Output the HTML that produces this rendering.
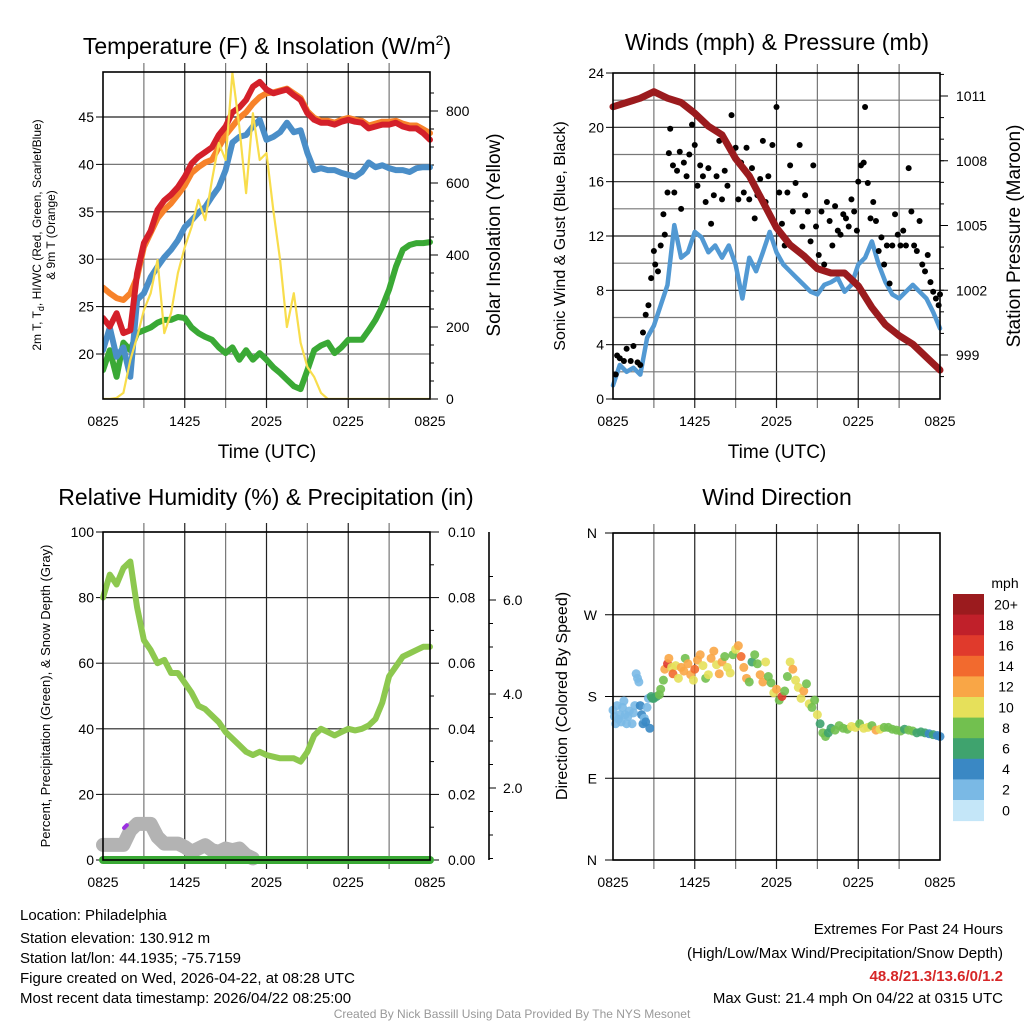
<!DOCTYPE html>
<html><head><meta charset="utf-8">
<style>
html,body{margin:0;padding:0;background:#fff;}
svg{display:block;font-family:"Liberation Sans",Arial,sans-serif;}
</style></head>
<body>
<svg id="fig" width="1024" height="1024" viewBox="0 0 1024 1024" xmlns="http://www.w3.org/2000/svg">
<rect width="1024" height="1024" fill="#fff"/>
<g id="p1"></g>
<g id="p2"></g>
<g id="p3"></g>
<g id="p4"></g>
<text x="267" y="54" font-size="23" text-anchor="middle">Temperature (F) &amp; Insolation (W/m<tspan dy="-9" font-size="14">2</tspan><tspan dy="9">)</tspan></text>
<text x="777" y="50" font-size="23" text-anchor="middle">Winds (mph) &amp; Pressure (mb)</text>
<text x="266" y="505" font-size="23" text-anchor="middle">Relative Humidity (%) &amp; Precipitation (in)</text>
<text x="777" y="505" font-size="23" text-anchor="middle">Wind Direction</text>
<text x="267" y="458" font-size="19" text-anchor="middle">Time (UTC)</text>
<text x="777" y="458" font-size="19" text-anchor="middle">Time (UTC)</text>
<text transform="translate(41,235) rotate(-90)" font-size="12" text-anchor="middle">2m T, T<tspan dy="3" font-size="9">d</tspan><tspan dy="-3">, HI/WC (Red, Green, Scarlet/Blue)</tspan></text>
<text transform="translate(55,235) rotate(-90)" font-size="12" text-anchor="middle">&amp; 9m T (Orange)</text>
<text transform="translate(500,235) rotate(-90)" font-size="19" text-anchor="middle">Solar Insolation (Yellow)</text>
<text transform="translate(565,236) rotate(-90)" font-size="16" text-anchor="middle">Sonic Wind &amp; Gust (Blue, Black)</text>
<text transform="translate(1020,236) rotate(-90)" font-size="19" text-anchor="middle">Station Pressure (Maroon)</text>
<text transform="translate(50,696) rotate(-90)" font-size="13" text-anchor="middle">Percent, Precipitation (Green), &amp; Snow Depth (Gray)</text>
<text transform="translate(567,696) rotate(-90)" font-size="16" text-anchor="middle">Direction (Colored By Speed)</text>
<text x="1005" y="588" font-size="14" text-anchor="middle">mph</text>
<g font-size="15">
<text x="20" y="920">Location: Philadelphia</text>
<text x="20" y="943">Station elevation: 130.912 m</text>
<text x="20" y="963">Station lat/lon: 44.1935; -75.7159</text>
<text x="20" y="983">Figure created on Wed, 2026-04-22, at 08:28 UTC</text>
<text x="20" y="1003">Most recent data timestamp: 2026/04/22 08:25:00</text>
</g>
<g font-size="15" text-anchor="end">
<text x="1003" y="934">Extremes For Past 24 Hours</text>
<text x="1003" y="958">(High/Low/Max Wind/Precipitation/Snow Depth)</text>
<text x="1003" y="981" fill="#d62728" font-weight="bold">48.8/21.3/13.6/0/1.2</text>
<text x="1003" y="1003">Max Gust: 21.4 mph On 04/22 at 0315 UTC</text>
</g>
<text x="512" y="1018" font-size="12" fill="#999" text-anchor="middle">Created By Nick Bassill Using Data Provided By The NYS Mesonet</text>
</svg>
<script>
// ---------- DATA ----------
const hours = [0,0.5,1,1.5,2,2.5,3,3.5,4,4.5,5,5.5,6,6.5,7,7.5,8,8.5,9,9.5,10,10.5,11,11.5,12,12.5,13,13.5,14,14.5,15,15.5,16,16.5,17,17.5,18,18.5,19,19.5,20,20.5,21,21.5,22,22.5,23,23.5,24];
const xTickLabels = ["0825","1425","2025","0225","0825"];
const tempRed = [23.8,22.9,24.3,22.2,22.5,28.5,31.7,33,35.2,36.2,36.8,37.6,38.7,40.1,40.8,41.3,41.8,43.1,44,45.5,46,46.8,48.2,48.7,47.9,47.5,47.7,47.9,47.3,46.8,45.4,44.7,44.4,44.4,44.2,44.5,44.7,44.5,44.4,43.8,44,44.2,44.2,44.4,44,43.8,43.8,43.3,42.6];
const temp9m = [27,26.4,25.9,25.7,26.4,28.1,31.3,32.8,34.3,35.2,35.9,36.8,37.8,39.1,39.7,40.2,40.5,41.8,43.1,44,44.9,45.5,46.4,47.1,47.5,47.6,47.8,48,47.5,47,45.6,44.9,44.6,44.6,44.4,44.7,44.9,44.7,44.6,44.1,44.3,44.5,44.5,44.6,44.3,44.1,44.1,43.7,43.3];
const tempBlue = [20.4,22.8,19.7,20.7,17.6,25.7,26.4,28.1,29.2,30.2,31,32,33.4,34.1,34.9,35.5,36.6,37.6,39.4,42.3,42.9,43.1,44,44.7,42.6,42.9,43.4,44.4,43.4,43.6,41.2,39.4,39.6,39.4,39.4,39.1,38.9,38.7,39.2,40.2,39.7,39.9,39.6,39.4,39.4,39.2,39.6,39.7,39.7];
const dewGreen = [18.3,20.4,17.6,21.2,20.4,22.2,22.5,22.8,23.3,23.6,23.6,23.9,23.8,22.8,22.2,21.8,21.5,20.7,20.1,20.7,19.4,20.4,19.4,20.1,19.4,18.6,18,17.3,16.6,16.3,18.3,20.4,20.9,21.2,20.1,20.7,21.5,21.5,21.5,22.5,23.6,25,26.8,29.2,31,31.5,31.7,31.7,31.8];
const solar = [0,0,3,17,108,172,247,294,386,183,239,350,422,478,553,497,608,711,664,906,756,572,794,664,683,525,386,200,294,156,89,61,17,0,0,0,0,0,0,0,0,0,0,0,0,0,0,0,0];
const tempTicks = [20,25,30,35,40,45];
const solarTicks = [0,200,400,600,800];

const windSpeed = [1,2.5,2,2.3,1.8,4.5,5.4,6.9,8.4,12.8,10.4,10.8,12.3,11.9,10.8,11.3,10.4,11.3,9.9,7.4,10.4,9.4,10.8,12.3,10.8,9.9,9.4,8.9,8.4,7.9,7.7,8.4,8.6,8.9,7.9,8.4,9.9,10.4,11.6,9.9,8.6,7.7,7.4,7.9,8.4,7.9,7.4,6.4,5.2];
const pressHours = [0,1,2,3,4,5,6,7,8,9,10,11,12,13,14,15,16,17,18,19,20,21,22,23,24];
const pressure = [1010.5,1010.7,1010.9,1011.2,1010.9,1010.7,1010.2,1009.6,1009.2,1008.1,1007.3,1006.1,1004.9,1004.1,1003.6,1003,1002.8,1002.8,1002.2,1001.2,1000.4,999.9,999.5,998.9,998.3];
const gustHours = [0.2,0.3,0.5,0.8,1.0,1.3,1.5,1.8,2.0,2.2,2.4,2.6,2.8,3.0,3.1,3.3,3.5,3.7,3.8,4.0,4.1,4.2,4.4,4.5,4.7,4.9,5.0,5.2,5.4,5.6,5.8,6.0,6.2,6.4,6.6,6.8,7.0,7.2,7.4,7.6,7.8,8.0,8.2,8.4,8.7,9.0,9.2,9.4,9.6,9.8,10.0,10.2,10.4,10.6,10.8,11.0,11.2,11.4,11.7,12.0,12.2,12.4,12.6,12.8,13.0,13.2,13.4,13.7,13.9,14.1,14.3,14.5,14.7,14.9,15.1,15.3,15.5,15.7,15.9,16.1,16.3,16.5,16.7,16.9,17.1,17.3,17.5,17.7,17.9,18.0,18.2,18.4,18.5,18.7,18.9,19.1,19.3,19.5,19.7,19.9,20.1,20.3,20.5,20.7,20.9,21.1,21.3,21.5,21.7,21.9,22.1,22.3,22.5,22.7,22.9,23.1,23.3,23.5,23.7,23.9,24.0];
const gustSpeed = [1.8,3.2,3.0,2.8,3.7,2.8,3.9,2.7,2.5,4.9,6.2,6.9,8.9,10.9,9.9,9.4,11.3,13.6,12.1,15.2,18.1,19.9,17.2,15.2,16.8,18.2,14,17.4,16.4,18,20.2,18.7,15.7,17.2,16.4,14.5,17,12.9,15,16.4,19,14.7,16.8,15.7,20.9,18.5,14.7,17.4,15.2,18.5,14.7,17,13.3,15,16.2,19,14.5,16.4,18.7,21.5,15.2,12.9,11.3,15.2,17.2,13.8,15.9,18.7,12.7,15,13.8,11.6,17.2,12.7,10.6,13.8,9.9,14.5,13.1,11.3,14.2,12.4,12.1,13.6,13.3,12.7,14.7,13.8,12.4,16,17.2,17.4,21.5,15.9,13.3,14.5,13.1,10.9,11.9,9.9,11.3,8.5,11.3,13.6,12.1,11.3,12.4,11.3,17,13.8,11.3,10.9,13.1,9.9,9.4,10.6,8.6,7.9,7.4,6.9,7.7];
const mphTicks = [0,4,8,12,16,20,24];
const pressTicks = [999,1002,1005,1008,1011];

const rhValues = [80,87,84,89,91,77,67,64,60,61,57,57,54,51,47,46,44,42,39,37,35,33,32,33,32,31.5,31,31,31,30,33,38,40,39,38,39,40,39.5,40,41,43,48,56,59,62,63,64,65,65];
const snowHours = [0,0.5,1,1.5,2,2.5,3,3.5,4,4.5,5,5.5,6,6.5,7,7.5,8,8.5,9,9.5,10,10.5,11];
const snowDepth = [4.6,4.6,4.6,4.6,9,11,11,11,7,5,5,5,4,2.5,3.5,4.5,3,2.5,3.5,3,3.5,1.5,0.5];
const precipValues = [0,0,0,0,0,0,0,0,0,0,0,0,0,0,0,0,0,0,0,0,0,0,0,0,0,0,0,0,0,0,0,0,0,0,0,0,0,0,0,0,0,0,0,0,0,0,0,0,0];
const rhTicks = [0,20,40,60,80,100];
const precipTicks = ["0.00","0.02","0.04","0.06","0.08","0.10"];
const depthTicks = ["2.0","4.0","6.0"];

const dirHours = [0.0,0.1,0.2,0.3,0.4,0.5,0.6,0.7,0.8,0.9,1.0,1.1,1.2,1.4,1.5,1.6,1.7,1.8,1.9,2.0,2.1,2.2,2.3,2.4,2.5,2.6,2.7,2.8,2.9,3.0,3.2,3.4,3.5,3.7,3.8,4.0,4.1,4.3,4.4,4.6,4.8,5.0,5.2,5.3,5.5,5.7,5.9,6.0,6.2,6.4,6.6,6.8,7.0,7.2,7.4,7.6,7.8,8.0,8.2,8.4,8.6,8.8,9.0,9.2,9.4,9.6,9.8,10.0,10.2,10.4,10.6,10.8,11.0,11.2,11.4,11.6,11.8,12.0,12.2,12.4,12.6,12.8,13.0,13.2,13.4,13.6,13.8,14.0,14.2,14.4,14.6,14.8,15.0,15.2,15.4,15.6,15.8,16.0,16.3,16.6,16.9,17.2,17.5,17.8,18.1,18.4,18.7,19.0,19.3,19.6,19.9,20.2,20.5,20.8,21.1,21.4,21.7,22.0,22.3,22.6,22.9,23.2,23.5,23.8,24.0];
const dirDeg = [165,158,150,170,155,160,152,168,175,160,150,158,164,150,162,170,205,200,196,170,160,150,156,152,168,178,145,180,178,178,180,182,188,198,210,216,222,212,205,214,200,212,208,222,216,204,198,210,220,226,214,200,204,222,230,215,205,218,224,212,206,226,232,236,224,212,200,196,218,226,216,204,196,218,202,195,184,188,176,180,186,202,218,210,198,190,178,186,194,172,168,176,160,150,140,136,140,145,143,148,145,144,147,146,150,145,146,148,143,144,146,146,144,143,142,144,143,142,140,141,140,139,138,137,136];
const dirSpeed = [2,1,2,2,2,2,1,2,2,2,1,2,2,2,2,2,2,2,2,3,4,4,2,4,1,1,4,6,6,6,6,7,8,8,12,15,12,10,13,10,9,12,12,8,12,11,10,13,12,11,10,8,10,12,11,10,12,12,8,10,10,8,9,12,13,11,12,8,6,8,8,12,12,10,7,8,9,12,8,16,8,8,10,11,9,10,9,12,8,10,8,8,10,6,8,7,6,6,7,8,8,8,10,10,8,9,10,8,12,10,8,8,7,8,8,6,8,7,6,5,6,4,5,4,4,6,4,4,4];
const dirTicks = ["N","E","S","W","N"];
const speedBins = ["0","2","4","6","8","10","12","14","16","18","20+"];
const speedColors = ["#c4e6f8","#7ab9e5","#3a88c4","#3fa36e","#72c04f","#e6e05a","#f9a646","#f26a2e","#e03a2c","#c0202a","#9b1b1e"];

// ---------- HELPERS ----------
const NS = "http://www.w3.org/2000/svg";
function mk(parent, tag, attrs, text){
  const e = document.createElementNS(NS, tag);
  for (const k in attrs) e.setAttribute(k, attrs[k]);
  if (text !== undefined) e.textContent = text;
  parent.appendChild(e);
  return e;
}
function linScale(d0,d1,r0,r1){ return v => r0 + (v-d0)*(r1-r0)/(d1-d0); }
function pathFrom(xs, ys, sx, sy){
  let d = "";
  for (let i=0;i<xs.length;i++) d += (i?"L":"M") + sx(xs[i]).toFixed(1) + " " + sy(ys[i]).toFixed(1);
  return d;
}

function frame(g, X0, X1, Y0, Y1, name){
  // vertical grid
  for (let h=3; h<24; h+=3){
    const x = X0 + h*(X1-X0)/24;
    const gl = mk(g,"line",{x1:x,x2:x,y1:Y0-9,y2:Y1+9,stroke:(h%6===0?"#222":"#777"),"stroke-width":1.2});
    
    
  }
  const xl = [0,6,12,18,24];
  for (let i=0;i<xl.length;i++){
    const x = X0 + xl[i]*(X1-X0)/24;
    const t = mk(g,"text",{x:x,y:Y1+27,"font-size":14,"text-anchor":"middle"}, xTickLabels[i]);
    
    
  }
}
function boxRect(g,X0,X1,Y0,Y1){
  const r = mk(g,"rect",{x:X0,y:Y0,width:X1-X0,height:Y1-Y0,fill:"none",stroke:"#000","stroke-width":1.6});
  
  
}
function hgrid(g,X0,X1,y,dark){
  const l = mk(g,"line",{x1:X0,x2:X1,y1:y,y2:y,stroke:dark?"#222":"#777","stroke-width":1.2});
  
  
}
function ylabel(g,x,y,txt,anchor){
  const t = mk(g,"text",{x:x,y:y+5,"font-size":14,"text-anchor":anchor}, txt);
  
  
}
function tick(g,x1,x2,y){
  const l = mk(g,"line",{x1:x1,x2:x2,y1:y,y2:y,stroke:"#000","stroke-width":1});
  
  
}

// ---------- PANEL 1 ----------
(function(){
  const g = document.getElementById("p1");
  const X0=103,X1=430,Y0=72,Y1=399;
  const sx = linScale(0,24,X0,X1);
  const sT = linScale(45,20,117,354);
  const sS = linScale(0,800,399,111);
  frame(g,X0,X1,Y0,Y1,"p1");
  tempTicks.forEach((v,i)=>{ hgrid(g,X0,X1,sT(v),i%2===1); ylabel(g,X0-9,sT(v),String(v),"end"); tick(g,X0-7,X0,sT(v)); });
  solarTicks.forEach(v=>{ ylabel(g,X1+16,sS(v),String(v),"start"); tick(g,X1,X1+8,sS(v)); });
  for (let v=50; v<900; v+=50){ tick(g,X1,X1+4,sS(v)); }
  const cp = mk(g,"clipPath",{id:"c1"}); mk(cp,"rect",{x:X0,y:Y0-10,width:X1-X0+4,height:Y1-Y0+10});
  const lay = mk(g,"g",{"clip-path":"url(#c1)","stroke-linejoin":"round","stroke-linecap":"round",fill:"none"});
  const series = [[dewGreen,"#3aa935","dewpoint-line"],[tempBlue,"#4a8ec8","heat-index-line"],[temp9m,"#f7822a","temp-9m-line"],[tempRed,"#d4202a","temp-2m-line"]];
  series.forEach(s=>{
    const p = mk(lay,"path",{d:pathFrom(hours,s[0],sx,sT),stroke:s[1],"stroke-width":6});
    
    
  });
  const sp = mk(lay,"path",{d:pathFrom(hours,solar,sx,sS),stroke:"#f8dd4c","stroke-width":2.2});
  
  
  boxRect(g,X0,X1,Y0,Y1);
})();

// ---------- PANEL 2 ----------
(function(){
  const g = document.getElementById("p2");
  const X0=613,X1=940,Y0=73,Y1=399;
  const sx = linScale(0,24,X0,X1);
  const sV = linScale(0,24,399,73);
  const sP = linScale(999,1011,355,96);
  frame(g,X0,X1,Y0,Y1,"p2");
  for (let v=2; v<24; v+=2) hgrid(g,X0,X1,sV(v), v%4===0);
  mphTicks.forEach(v=>{ ylabel(g,X0-9,sV(v),String(v),"end"); tick(g,X0-7,X0,sV(v)); });
  pressTicks.forEach(v=>{ ylabel(g,X1+16,sP(v),String(v),"start"); tick(g,X1,X1+8,sP(v)); });
  for (let v=998; v<=1012; v++){ tick(g,X1,X1+4,sP(v)); }
  const lay = mk(g,"g",{"stroke-linejoin":"round","stroke-linecap":"round",fill:"none"});
  const w = mk(lay,"path",{d:pathFrom(hours,windSpeed,sx,sV),stroke:"#5299d3","stroke-width":4.5});
  
  
  gustHours.forEach((h,i)=>{
    const c = mk(g,"circle",{cx:sx(h),cy:sV(gustSpeed[i]),r:3,fill:"#000"});
    
    
  });
  const p = mk(g,"path",{d:pathFrom(pressHours,pressure,sx,sP),stroke:"#9b1b1e","stroke-width":7,fill:"none","stroke-linejoin":"round","stroke-linecap":"round"});
  
  
  boxRect(g,X0,X1,Y0,Y1);
})();

// ---------- PANEL 3 ----------
(function(){
  const g = document.getElementById("p3");
  const X0=103,X1=430,Y0=532,Y1=860;
  const sx = linScale(0,24,X0,X1);
  const sR = linScale(0,100,860,532);
  frame(g,X0,X1,Y0,Y1,"p3");
  rhTicks.forEach((v,i)=>{ hgrid(g,X0,X1,sR(v),i%2===0); ylabel(g,X0-9,sR(v),String(v),"end"); tick(g,X0-7,X0,sR(v)); });
  precipTicks.forEach((v,i)=>{ ylabel(g,X1+18,sR(i*20),v,"start"); tick(g,X1,X1+9,sR(i*20)); });
  for (let v=10; v<100; v+=20){ tick(g,X1,X1+4,sR(v)); }
  // depth axis
  const sD = linScale(0,2,882,788);
  const ax = mk(g,"line",{x1:489,x2:489,y1:532,y2:860,stroke:"#000","stroke-width":1.6});
  
  
  depthTicks.forEach(v=>{ const y=sD(parseFloat(v)); tick(g,489,496,y); ylabel(g,503,y,v,"start"); });
  for (let v=0.5; v<7; v+=0.5){ const y=sD(v); if(y>532&&y<860) tick(g,489,493,y); }
  const lay = mk(g,"g",{"stroke-linejoin":"round","stroke-linecap":"round",fill:"none"});
  const s = mk(lay,"path",{d:pathFrom(snowHours,snowDepth,sx,sR),stroke:"#b3b3b3","stroke-width":14});
  
  
  const pu = mk(lay,"path",{d:pathFrom([1.55,1.75],[9.8,10.6],sx,sR),stroke:"#9b30e0","stroke-width":4});
  
  
  const r = mk(lay,"path",{d:pathFrom(hours,rhValues,sx,sR),stroke:"#8dc84f","stroke-width":6});
  
  
  const pr = mk(lay,"path",{d:pathFrom(hours,precipValues,sx,sR),stroke:"#3aa935","stroke-width":8});
  
  
  boxRect(g,X0,X1,Y0,Y1);
})();

// ---------- PANEL 4 ----------
(function(){
  const g = document.getElementById("p4");
  const X0=613,X1=940,Y0=533,Y1=860;
  const sx = linScale(0,24,X0,X1);
  const sD = linScale(0,360,860,533);
  frame(g,X0,X1,Y0,Y1,"p4");
  dirTicks.forEach((v,i)=>{ const y=sD(i*90); hgrid(g,X0,X1,y,true); ylabel(g,X0-16,y,v,"end"); tick(g,X0-8,X0,y); });
  dirHours.forEach((h,i)=>{
    const bin = Math.min(10, Math.floor(dirSpeed[i]/2+0.5));
    const c = mk(g,"circle",{cx:sx(h),cy:sD(dirDeg[i]),r:4.5,fill:speedColors[bin],"fill-opacity":0.9});
    
    
  });
  boxRect(g,X0,X1,Y0,Y1);
  // colorbar
  const n = speedBins.length, top=594, bh=20.6;
  for (let i=0;i<n;i++){
    const idx = n-1-i;
    const r = mk(g,"rect",{x:953,y:top+i*bh,width:31,height:bh+0.5,fill:speedColors[idx]});
    
    
    const t = mk(g,"text",{x:1006,y:top+i*bh+bh/2+5,"font-size":14,"text-anchor":"middle"}, speedBins[idx]);
    
    
  }
})();
</script>
</body></html>
